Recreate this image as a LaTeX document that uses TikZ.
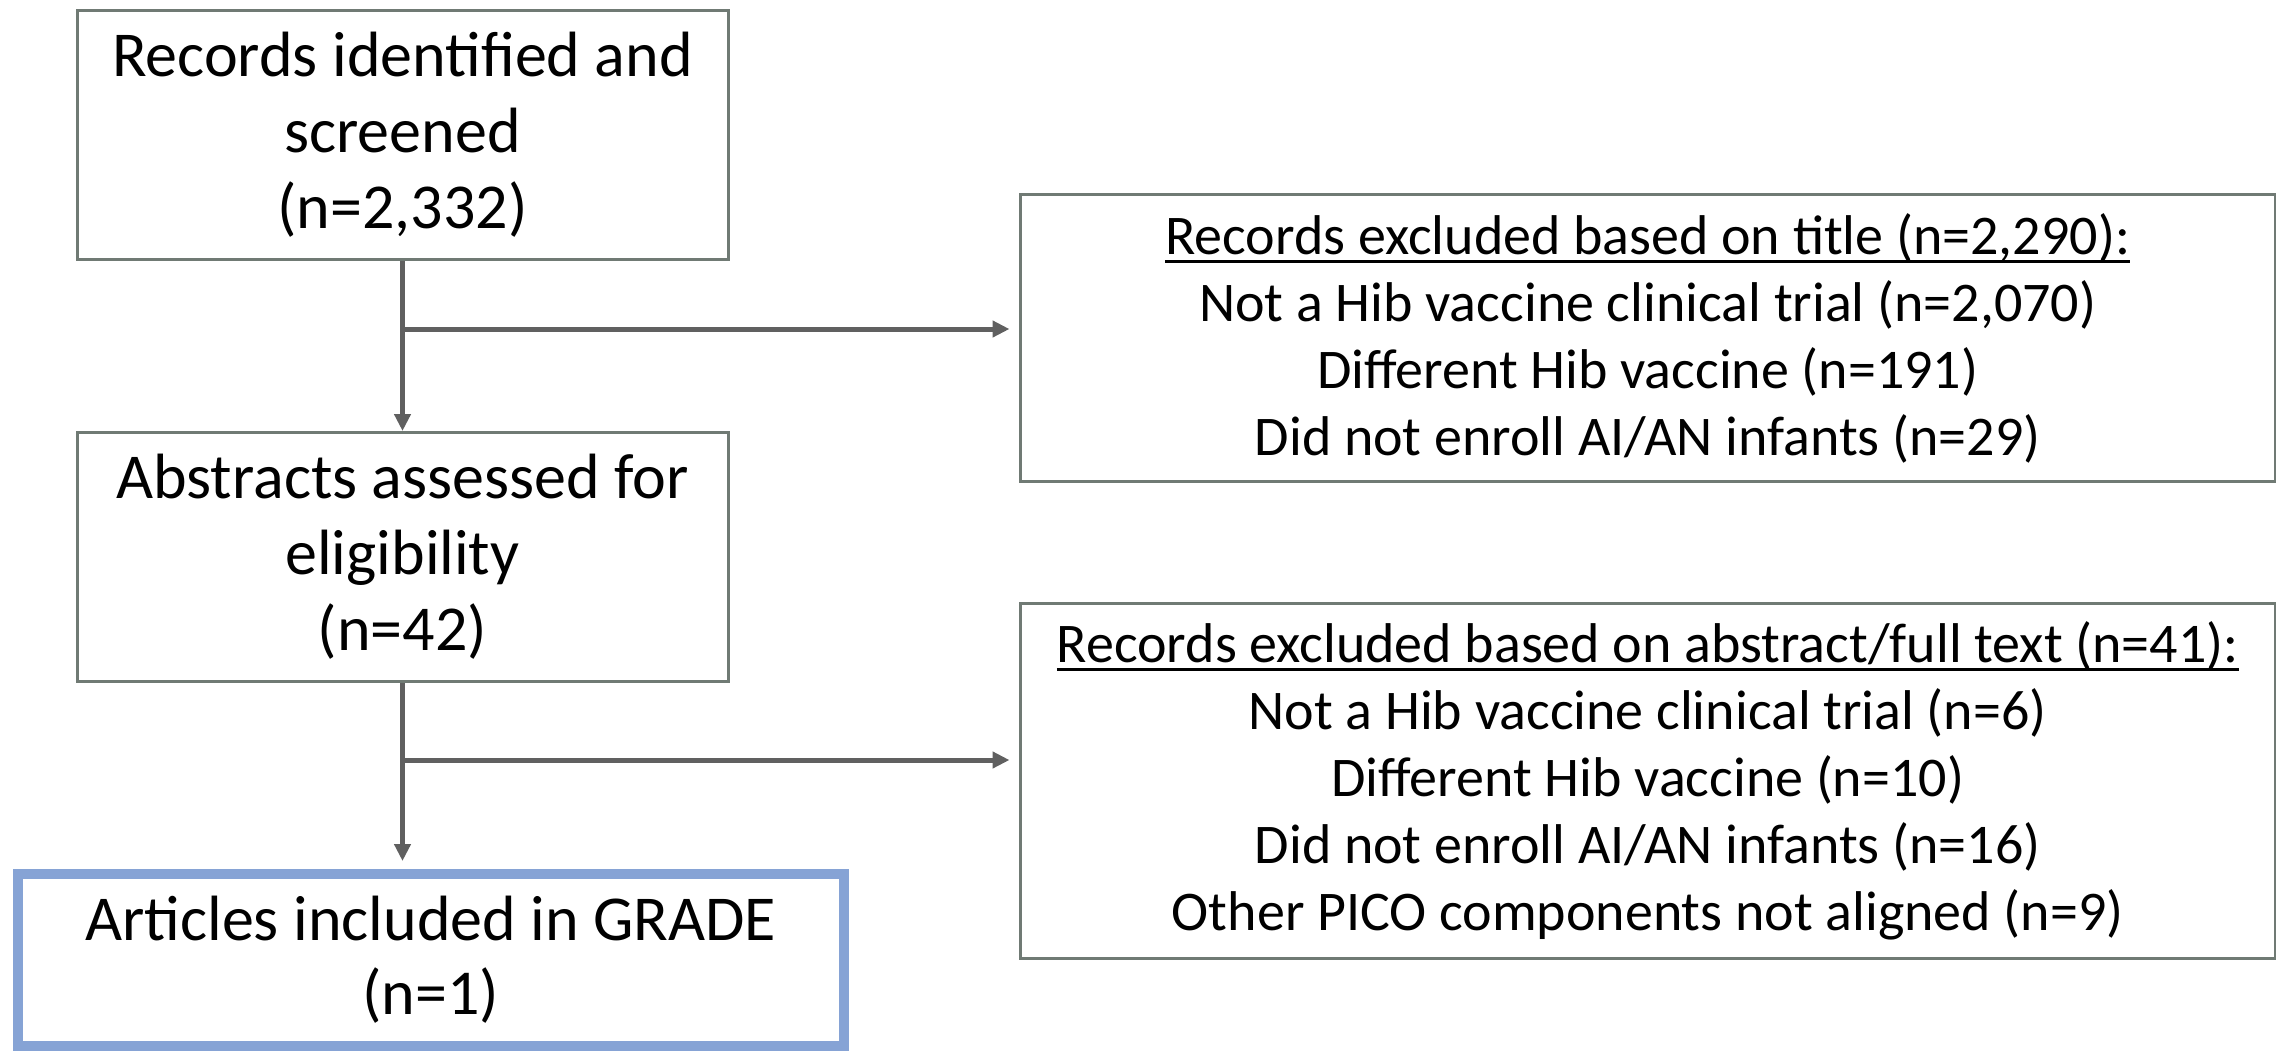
\documentclass[tikz,border=0pt]{standalone}
\usepackage{fontspec}
\setmainfont{Carlito}
\usetikzlibrary{arrows.meta}
\definecolor{boxgray}{RGB}{112,122,116}
\definecolor{arrgray}{RGB}{96,96,96}
\definecolor{gradeblue}{RGB}{134,163,213}
\newcommand\myul[1]{\setbox0\hbox{#1}\rlap{\rule[-4.3pt]{\wd0}{1.4pt}}\box0}
\tikzset{
  x=0.5pt, y=-0.5pt,
  leftbox/.style={draw=boxgray, line width=1.5pt, rectangle, align=center,
    minimum width=325.5pt, minimum height=124.5pt, inner sep=0pt,
    font=\fontsize{32}{38}\selectfont},
  rightbox/.style={draw=boxgray, line width=1.5pt, rectangle, align=center,
    minimum width=627.25pt, inner sep=0pt,
    font=\fontsize{28}{33.5}\selectfont},
  gradebox/.style={draw=gradeblue, line width=5pt, rectangle, align=center,
    minimum width=413.25pt, minimum height=86pt, inner sep=0pt,
    font=\fontsize{32}{37}\selectfont},
  arr/.style={draw=arrgray, line width=2.5pt, -{Triangle[length=8.5pt,width=8pt]}},
}
\begin{document}
\begin{tikzpicture}
\useasboundingbox (0,0) rectangle (2276,1050);
\node[leftbox] (b1) at (402.5,135) {Records identified and\\screened\\(n=2,332)};
\node[leftbox] (b2) at (402.5,557) {Abstracts assessed for\\eligibility\\(n=42)};
\node[gradebox] (b3) at (430.75,960) {Articles included in GRADE\\(n=1)};
\node[rightbox, minimum height=143.5pt] (r1) at (1647.75,338)
  {\myul{Records excluded based on title (n=2,290):}\\
   Not a Hib vaccine clinical trial (n=2,070)\\
   Different Hib vaccine (n=191)\\
   Did not enroll AI/AN infants (n=29)};
\node[rightbox, minimum height=177.5pt] (r2) at (1647.75,781)
  {\myul{Records excluded based on abstract/full text (n=41):}\\
   Not a Hib vaccine clinical trial (n=6)\\
   Different Hib vaccine (n=10)\\
   Did not enroll AI/AN infants (n=16)\\
   Other PICO components not aligned (n=9)};
\coordinate (j1) at (402.5,329);
\coordinate (j2) at (402.5,760);
\draw[arr] (b1.south) -- (b2.north);
\draw[arr, shorten >=4pt] (b2.south) -- (b2.south |- b3.north);
\draw[arr, shorten >=4.75pt] (j1) -- (j1 -| r1.west);
\draw[arr, shorten >=4.75pt] (j2) -- (j2 -| r2.west);
\end{tikzpicture}
\end{document}
